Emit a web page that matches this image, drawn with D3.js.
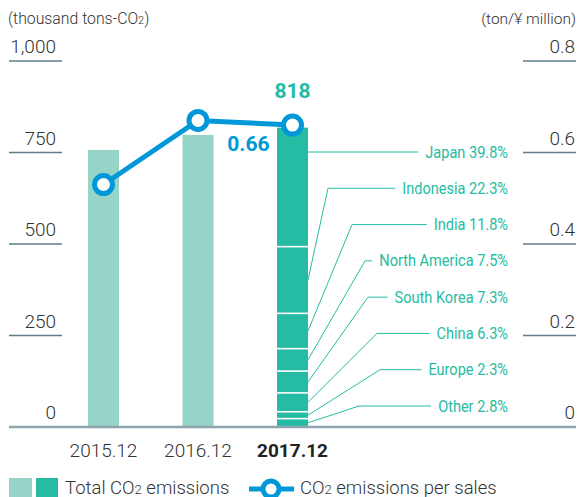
<!DOCTYPE html>
<html lang="en">
<head>
<meta charset="utf-8">
<title>CO2 emissions</title>
<script src="https://cdn.jsdelivr.net/npm/d3@7"></script>
<style>
  html, body { margin: 0; padding: 0; background: #fff; }
  svg { display: block; font-family: Roboto, "Liberation Sans", sans-serif; }
</style>
</head>
<body>
<script>
// data
var years = ["2015.12", "2016.12", "2017.12"];
var totalEmissions = [757, 798, 818];          // thousand tons-CO2
var intensity = [0.53, 0.67, 0.66];            // ton / yen million
var regions = ["Japan", "Indonesia", "India", "North America", "South Korea", "China", "Europe", "Other"];
var regionShares = [39.8, 22.3, 11.8, 7.5, 7.3, 6.3, 2.3, 2.8];
var leftTicks = [0, 250, 500, 750, 1000];
var rightTicks = [0, 0.2, 0.4, 0.6, 0.8];

// layout of the callouts (x where the leader bends, null = straight)
var elbowX = [null, 328, 352, 365, 368, 377, 380, 359];

var w = 578, h = 497;
var barW = 31;
var teal = "#26bca3", lightTeal = "#95d4c6", blue = "#0098d8";
var textCol = "#333";

var svg = d3.select("body").append("svg")
    .attr("width", w)
    .attr("height", h);

var x = d3.scalePoint().domain(years).range([103.5, 292.5]);
var yL = d3.scaleLinear().domain([0, 1000]).range([427, 61]);
var yR = d3.scaleLinear().domain([0, 0.8]).range([427, 61]);

// axis titles
var t1 = svg.append("text").attr("x", 8).attr("y", 24)
    .attr("font-size", 15.8).attr("fill", textCol).attr("font-weight", 300);
t1.append("tspan").text("(thousand tons-CO");
t1.append("tspan").attr("font-size", 11).text("2");
t1.append("tspan").text(")");

svg.append("text").attr("x", 576).attr("y", 24)
    .attr("text-anchor", "end")
    .attr("font-size", 15.5).attr("fill", textCol).attr("font-weight", 300)
    .text("(ton/\u00a5 million)");

// left ticks
svg.selectAll(".lt")
   .data(leftTicks)
   .enter()
   .append("text")
   .attr("class", "lt")
   .attr("x", 56)
   .attr("y", function(d) { return yL(d) - 8; })
   .attr("text-anchor", "end")
   .attr("font-size", 19)
   .attr("font-weight", 300)
   .attr("fill", textCol)
   .text(function(d) { return d3.format(",")(d); });

svg.selectAll(".ltl")
   .data(leftTicks.filter(function(d) { return d > 0; }))
   .enter()
   .append("line")
   .attr("x1", 9).attr("x2", 62)
   .attr("y1", function(d) { return yL(d); })
   .attr("y2", function(d) { return yL(d); })
   .attr("stroke", "#5d7d8e")
   .attr("stroke-width", 1.5);

// right ticks
svg.selectAll(".rt")
   .data(rightTicks)
   .enter()
   .append("text")
   .attr("class", "rt")
   .attr("x", 575)
   .attr("y", function(d) { return yR(d) - 8; })
   .attr("text-anchor", "end")
   .attr("font-size", 19)
   .attr("font-weight", 300)
   .attr("fill", textCol)
   .text(function(d) { return d === 0 ? "0" : d3.format(".1f")(d); });

svg.selectAll(".rtl")
   .data(rightTicks.filter(function(d) { return d > 0; }))
   .enter()
   .append("line")
   .attr("x1", 523).attr("x2", 576)
   .attr("y1", function(d) { return yR(d); })
   .attr("y2", function(d) { return yR(d); })
   .attr("stroke", "#5d7d8e")
   .attr("stroke-width", 1.5);

// bars
svg.selectAll(".bar")
   .data(totalEmissions)
   .enter()
   .append("rect")
   .attr("class", "bar")
   .attr("x", function(d, i) { return x(years[i]) - barW / 2; })
   .attr("y", function(d) { return yL(d); })
   .attr("width", barW)
   .attr("height", function(d) { return yL(0) - yL(d); })
   .attr("fill", function(d, i) { return i === years.length - 1 ? teal : lightTeal; });

// stacked breakdown of the last bar
var last = years.length - 1;
var lastTotal = totalEmissions[last];
var shareSum = d3.sum(regionShares);
var segs = [];
var acc = 0;
for (var i = regions.length - 1; i >= 0; i--) {
    var v = regionShares[i] / shareSum * lastTotal;
    segs.push({ name: regions[i], share: regionShares[i], idx: i, y0: acc, y1: acc + v });
    acc += v;
}
var bx = x(years[last]) - barW / 2;

svg.selectAll(".sep")
   .data(segs.slice(1))
   .enter()
   .append("line")
   .attr("x1", bx).attr("x2", bx + barW)
   .attr("y1", function(d) { return yL(d.y0); })
   .attr("y2", function(d) { return yL(d.y0); })
   .attr("stroke", "#fff")
   .attr("stroke-width", 1.6);

// callouts (condensed look: wider font squeezed horizontally)
var calloutY = d3.scaleLinear().domain([0, regions.length - 1]).range([152, 406]);
var labelRight = 508;
var barRight = bx + barW;
var squeeze = 0.91;

segs.forEach(function(s) {
    var ly = calloutY(s.idx);
    var g = svg.append("g")
        .attr("transform", "translate(" + labelRight + "," + (ly + 5.5) + ") scale(" + squeeze + ",1)");
    var lab = g.append("text")
        .attr("text-anchor", "end")
        .attr("font-size", 16)
        .attr("fill", teal)
        .text(s.name + " " + s.share.toFixed(1) + "%");
    var tw = lab.node().getComputedTextLength() * squeeze;
    var endX = labelRight - tw - 7;
    var pts;
    if (elbowX[s.idx] === null) {
        pts = [[barRight, ly], [endX, ly]];
    } else {
        var my = yL((s.y0 + s.y1) / 2);
        pts = [[barRight, my], [elbowX[s.idx], ly], [endX, ly]];
    }
    svg.append("path")
       .attr("d", d3.line()(pts))
       .attr("fill", "none")
       .attr("stroke", teal)
       .attr("stroke-width", 1);
});

// baseline
svg.append("line")
   .attr("x1", 9).attr("x2", 576)
   .attr("y1", yL(0)).attr("y2", yL(0))
   .attr("stroke", "#8fa4ae")
   .attr("stroke-width", 2.5);

// x labels
svg.selectAll(".xl")
   .data(years)
   .enter()
   .append("text")
   .attr("x", function(d) { return x(d); })
   .attr("y", 456.5)
   .attr("text-anchor", "middle")
   .attr("font-size", 19)
   .attr("font-weight", function(d, i) { return i === last ? 700 : 300; })
   .attr("fill", function(d, i) { return i === last ? "#222" : textCol; })
   .text(function(d) { return d; });

// intensity line
var line = d3.line()
    .x(function(d, i) { return x(years[i]); })
    .y(function(d) { return yR(d); });

svg.append("path")
   .datum(intensity)
   .attr("d", line)
   .attr("fill", "none")
   .attr("stroke", blue)
   .attr("stroke-width", 5);

svg.selectAll(".pt")
   .data(intensity)
   .enter()
   .append("circle")
   .attr("cx", function(d, i) { return x(years[i]); })
   .attr("cy", function(d) { return yR(d); })
   .attr("r", 9)
   .attr("fill", "#fff")
   .attr("stroke", blue)
   .attr("stroke-width", 5);

// value labels
svg.append("text")
   .attr("x", x(years[last]))
   .attr("y", yL(lastTotal) - 30)
   .attr("text-anchor", "middle")
   .attr("font-size", 21)
   .attr("font-weight", 700)
   .attr("fill", teal)
   .text(lastTotal);

svg.append("text")
   .attr("x", x(years[last]) - 23)
   .attr("y", yR(intensity[last]) + 26)
   .attr("text-anchor", "end")
   .attr("font-size", 21)
   .attr("font-weight", 700)
   .attr("fill", blue)
   .text(intensity[last].toFixed(2));

// legend
svg.append("rect").attr("x", 9).attr("y", 478).attr("width", 23).attr("height", 20).attr("fill", lightTeal);
svg.append("rect").attr("x", 36).attr("y", 478).attr("width", 22).attr("height", 20).attr("fill", teal);
var lt = svg.append("text").attr("x", 65).attr("y", 494)
    .attr("font-size", 18.5).attr("font-weight", 300).attr("fill", textCol);
lt.append("tspan").text("Total CO");
lt.append("tspan").attr("font-size", 13).text("2");
lt.append("tspan").text(" emissions");

svg.append("line").attr("x1", 249).attr("x2", 294).attr("y1", 489).attr("y2", 489)
   .attr("stroke", blue).attr("stroke-width", 5);
svg.append("circle").attr("cx", 271).attr("cy", 489).attr("r", 8)
   .attr("fill", "#fff").attr("stroke", blue).attr("stroke-width", 5);
var lt2 = svg.append("text").attr("x", 300).attr("y", 494)
    .attr("font-size", 18.5).attr("font-weight", 300).attr("fill", textCol);
lt2.append("tspan").text("CO");
lt2.append("tspan").attr("font-size", 13).text("2");
lt2.append("tspan").text(" emissions per sales");
</script>
</body>
</html>
